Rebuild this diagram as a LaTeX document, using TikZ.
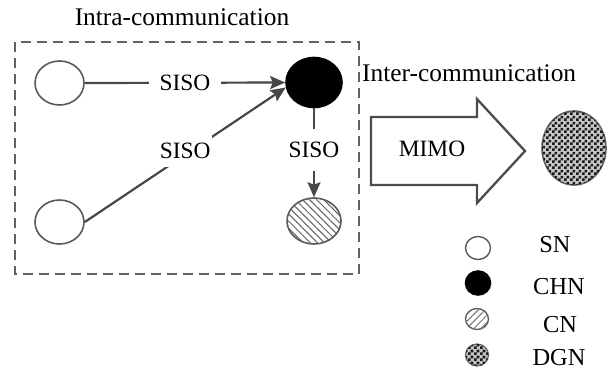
\documentclass[tikz,border=0pt]{standalone}
\usepackage{fontspec}
\setmainfont{Liberation Serif}
\usetikzlibrary{shapes.geometric,arrows.meta,patterns,patterns.meta}

% fine checkerboard used for the DGN disc
\pgfdeclarepatternformonly{chessboard}{\pgfqpoint{0bp}{0bp}}{\pgfqpoint{6bp}{6bp}}{\pgfqpoint{6bp}{6bp}}{%
  \pgfpathrectangle{\pgfpointorigin}{\pgfqpoint{3bp}{3bp}}%
  \pgfpathrectangle{\pgfqpoint{3bp}{3bp}}{\pgfqpoint{3bp}{3bp}}%
  \pgfusepath{fill}}

\tikzset{
  txt/.style={font=\fontsize{23.5}{27}\selectfont, inner sep=0pt, text=black},
  title/.style={font=\fontsize{25.5}{29}\selectfont, inner sep=0pt, text=black},
  key/.style={font=\fontsize{24.5}{28}\selectfont, inner sep=0pt, text=black},
  disc/.style={ellipse, inner sep=0pt, line width=1.6bp},
  sensor/.style={disc, draw=black!65, fill=white, minimum width=49bp, minimum height=44bp},
  head/.style={disc, draw=black, fill=black, minimum width=56bp, minimum height=50bp},
  member/.style={disc, draw=black!65, fill=white,
    postaction={pattern={Lines[angle=-45,distance=5bp,line width=1bp]}, pattern color=black!62},
    minimum width=54bp, minimum height=46bp},
  gateway/.style={disc, draw=black!60, fill=black!22,
    postaction={pattern=chessboard, pattern color=black!90},
    minimum width=64bp, minimum height=74bp},
  link/.style={draw=black!72, line width=2.2bp,
    -{Stealth[length=15bp,width=13bp,inset=2.5bp]}},
  lab/.style={txt, fill=white},
  frame/.style={draw=black!62, line width=2.2bp, dash pattern=on 10bp off 6bp},
  bigarrow/.style={draw=black!70, line width=2.3bp, fill=white, line join=miter},
}

\begin{document}
\begin{tikzpicture}[x=1bp,y=-1bp]
  \useasboundingbox (0,0) rectangle (614,378);

  % cluster boundary
  \draw[frame] (15,42) rectangle (359,274);
  \node[title] (intra) at (182,17) {Intra-communication};
  \node[title, anchor=west] (inter) at (362,73) {Inter-communication};

  % cluster members
  \node[sensor] (sn1) at (59.5,83) {};
  \node[sensor] (sn2) at (59.5,222) {};
  \node[head]   (chn) at (314,82.5) {};
  \node[member] (cn)  at (314,221) {};

  % single-antenna links inside the cluster
  \draw[link] (sn1.east) -- node[lab, inner xsep=11bp, inner ysep=4bp] {SISO} (chn.west);
  \draw[link] (sn2.east) -- node[lab, pos=0.5, yshift=4bp, inner xsep=1bp, inner ysep=8bp] {SISO} (chn.190);
  \draw[link] (chn.south) -- node[lab, pos=0.47, inner xsep=4bp, inner ysep=13bp] {SISO} (cn.north);

  % multi-antenna link to the gateway
  \draw[bigarrow] (371,117) -- (477,117) -- (477,99) -- (525,151)
    -- (477,203) -- (477,185) -- (371,185) -- cycle;
  \node[txt] (mimo) at (432,149) {MIMO};
  \node[gateway] (dgn) at (574,148) {};

  % legend
  \node[sensor, minimum width=25bp, minimum height=23bp, line width=1.4bp] (lsn) at (478,248) {};
  \node[head, minimum width=25bp, minimum height=24bp] (lchn) at (478,283) {};
  \node[disc, draw=black!62, fill=white, line width=1.4bp,
    postaction={pattern={Lines[angle=45,distance=5bp,line width=1bp]}, pattern color=black!55},
    minimum width=23bp, minimum height=21bp] (lcn) at (477,319) {};
  \node[gateway, minimum width=23bp, minimum height=22bp, line width=1.2bp] (ldgn) at (477,355) {};

  \node[key] (tsn)  at (555,245) {SN};
  \node[key] (tchn) at (559,287) {CHN};
  \node[key] (tcn)  at (560,325) {CN};
  \node[key] (tdgn) at (559,358) {DGN};
\end{tikzpicture}
\end{document}
